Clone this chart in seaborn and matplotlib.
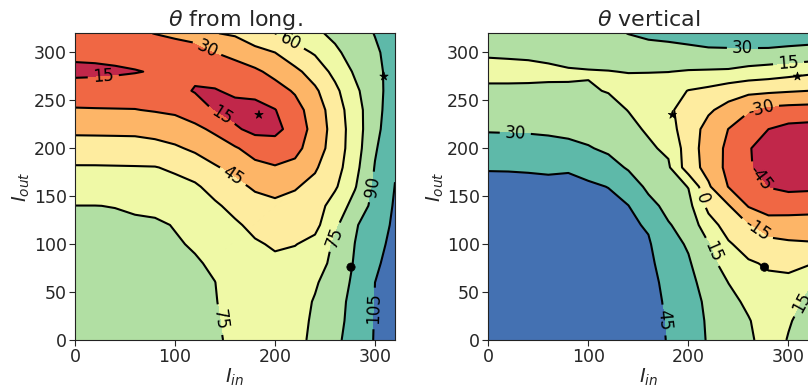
import numpy as np
import pandas as pd
import matplotlib
matplotlib.use("Agg")
import matplotlib.pyplot as plt
import seaborn as sns

sns.set_style("ticks")
plt.rcParams["font.family"] = ["DejaVu Sans"]
plt.rcParams["contour.negative_linestyle"] = "solid"

# grid coordinates (same for both panels)
I_in = [0, 20, 40, 60, 80, 100, 120, 140, 160, 180, 200, 220, 240, 260, 280, 300, 320]
I_out = [0, 20, 40, 60, 80, 100, 120, 140, 160, 180, 200, 220, 240, 260, 280, 300, 320]

# theta from long. : one list per I_in column, values along I_out (0 -> 320)
theta_long_cols = [
    [84, 83.5, 82.5, 81.3, 80, 78.5, 77, 75.1, 68.2, 61.1, 51.8, 41.8, 31.1, 22.3, 11.5, 18.5, 24],
    [84, 83.5, 82.5, 81.3, 80, 78.5, 77, 75.1, 68.3, 61.1, 51.6, 41.7, 30.8, 22.5, 12, 18.8, 24.5],
    [83.5, 83, 82, 81, 79.5, 78, 76.5, 74.8, 67.8, 60.9, 51.5, 41.5, 30.6, 22.6, 13, 19.5, 26],
    [83, 82.5, 81.5, 80.5, 79, 77.8, 76.5, 73.7, 66.8, 60.7, 51.3, 41.3, 30.4, 22.8, 14.3, 20.5, 28],
    [81, 80.5, 80, 79, 78, 77, 76.5, 72.5, 66.5, 60.5, 50, 39.5, 29, 21.5, 16, 22.5, 30.3],
    [79.5, 79, 78.5, 78, 77, 76, 74.5, 69, 64, 58, 47, 37, 27.5, 19.5, 17, 25, 32],
    [78, 77.8, 77.5, 77, 76, 74, 70.5, 66.5, 62, 53, 42.5, 33, 23, 14, 18, 26, 34],
    [76, 75.7, 75.4, 75.1, 73.5, 70.5, 66.5, 62, 55, 46.5, 36.5, 27.5, 14, 14, 22, 30, 44.5],
    [73.5, 73, 72, 70.5, 68.5, 65.5, 62, 56, 49, 40.5, 31.5, 17, 9.5, 18, 24, 34, 47],
    [70, 69.5, 68.5, 67, 65, 61.5, 56.5, 50.5, 43, 34, 24, 11, 9, 20, 27.5, 40, 55],
    [68, 67.5, 66.5, 65, 62.5, 58.5, 53.5, 48, 40.5, 31, 22, 11, 14.5, 24.5, 34, 45, 60],
    [71, 70.5, 69.5, 68, 65, 59.5, 54, 49, 44, 34, 25.5, 21, 24.5, 31.5, 41.5, 54.5, 66],
    [78, 77, 76, 73.5, 69.5, 64, 56, 53, 48.5, 43.5, 38, 35.5, 37, 42.5, 51.5, 61.5, 72.5],
    [87.5, 85.5, 84.5, 82, 78.5, 77.5, 72, 66.5, 58, 53.5, 51.5, 51, 52.5, 56.5, 64, 72.5, 78],
    [95, 95, 94.5, 93, 91.5, 90.2, 88.5, 80, 74, 70.5, 68, 67.5, 68.5, 72, 77, 80.5, 84],
    [106, 105.7, 105.3, 105, 103, 100.5, 98, 95, 92.5, 90.8, 88.5, 86, 85, 85, 86, 88, 90.5],
    [113, 112.5, 112, 111, 110, 109, 107.5, 106.5, 105.3, 104, 102, 100, 98.5, 97, 96, 95.5, 95],
]

# theta vertical : one list per I_in column, values along I_out (0 -> 320)
theta_vert_cols = [
    [58, 57.8, 57.5, 57, 56, 55, 53.5, 51, 48, 44.3, 36, 28.8, 23, 17.5, 11, 16.5, 22],
    [58, 57.8, 57.5, 57, 56, 55, 53.5, 51, 48, 44.2, 35.7, 28.6, 23, 17.5, 11, 17, 22.5],
    [57.5, 57.3, 57, 56.5, 55.5, 54.5, 53, 50.5, 47.6, 44, 35.5, 28.3, 22.8, 17.5, 11.3, 17.5, 23],
    [57, 56.8, 56.5, 56, 55, 54, 52.5, 50, 47.3, 43.6, 35, 27.5, 22.5, 17.5, 12, 19, 24],
    [56, 55.8, 55.5, 55, 54, 53, 51.5, 49, 47, 44.2, 33.5, 26.5, 21.5, 16.3, 13.5, 21, 25.5],
    [55, 54.8, 54.5, 54, 53, 52, 50.5, 48.5, 46.3, 42, 31, 25, 20.5, 16, 14.2, 21.5, 26.5],
    [54, 53.8, 53.5, 53, 52, 51, 49.5, 47.5, 44.8, 35.5, 27.5, 22.5, 18.5, 14.5, 14.6, 22, 27],
    [53, 52.8, 52.5, 52, 51, 49.5, 47.5, 45.2, 38, 28.5, 22, 18, 14.7, 9, 15.5, 23.5, 30.3],
    [51.5, 51, 50.5, 49.5, 48, 46.5, 43.5, 34.5, 27, 21, 17, 13.5, 6, 7, 15.5, 24, 33],
    [44, 43.5, 42.5, 41, 38.5, 35, 31, 26, 21.5, 17, 12.5, 5.5, 2, 6, 15.2, 25, 34],
    [36, 35.8, 35, 33.5, 31.5, 28.5, 24.5, 19.5, 14.5, -8, -7.5, -7.5, -5, -0.5, 14, 26.5, 35],
    [29, 28.5, 27.5, 25, 20.5, 15.8, 6, -4, -13, -20, -22, -20, -13, -3.5, 13.5, 27.5, 37],
    [23, 22, 19.5, 14.8, 8, 1.5, -6, -14, -30.5, -34, -33, -30.2, -20, -8.5, 13, 27.5, 38],
    [17.5, 16, 12, 6.5, 1.5, -5.5, -14.5, -31, -39, -43.5, -44, -40, -28.5, -11.5, 10, 27.5, 38.5],
    [9, 7.5, 5, 2.5, -1.5, -10, -24, -36, -45.5, -51, -51, -45, -34, -12.5, 8, 27.2, 39],
    [15.7, 14, 7.6, 3, -3.1, -12.7, -23.8, -36, -48.5, -54, -55, -49, -35.4, -13.8, 5.5, 26.6, 37],
    [22, 19.5, 18.5, 12.5, -1.5, -13.5, -24, -35, -48, -55, -56, -50, -36, -15, 3, 26, 36],
]

levels_long = [0, 15, 30, 45, 60, 75, 90, 105, 120]
levels_vert = [-60, -45, -30, -15, 0, 15, 30, 45, 60]

# marked points
pt_in = [184, 309, 276]
pt_out = [235, 275, 76]
pt_kind = ["star", "star", "dot"]

titles = [r"$\theta$ from long.", r"$\theta$ vertical"]
x_ticks = [0, 100, 200, 300]
y_ticks = [0, 50, 100, 150, 200, 250, 300]

# label positions for contour labels (styling)
lab_long = [(28, 279), (150, 240), (132, 304), (215, 311), (158, 171),
            (258, 108), (150, 22), (295, 160), (297, 33)]
lab_vert = [(254, 304), (300, 290), (27, 216), (272, 243), (268, 167),
            (214, 148), (267, 113), (224, 92), (177, 21), (311, 40)]

cmap = sns.color_palette("Spectral", as_cmap=True)

fig = plt.figure(figsize=(8.08, 3.9), dpi=100)
ax1 = fig.add_axes([75 / 808, 50 / 390, 320 / 808, 306.7 / 390])
ax2 = fig.add_axes([488.3 / 808, 50 / 390, 320.2 / 808, 306.7 / 390])

X, Y = np.meshgrid(np.array(I_in, float), np.array(I_out, float))
pts = pd.DataFrame({"I_in": pt_in, "I_out": pt_out, "kind": pt_kind})

for ax, cols, lev, labs, title in [
    (ax1, theta_long_cols, levels_long, lab_long, titles[0]),
    (ax2, theta_vert_cols, levels_vert, lab_vert, titles[1]),
]:
    Z = np.array(cols, float).T
    ax.contourf(X, Y, Z, levels=lev, cmap=cmap)
    cl = ax.contour(X, Y, Z, levels=lev[1:-1], colors="k", linewidths=1.5,
                    linestyles="solid")
    ax.clabel(cl, fmt="%d", fontsize=12, manual=labs, inline=True)
    sns.scatterplot(data=pts, x="I_in", y="I_out", style="kind", size="kind",
                    sizes={"star": 40, "dot": 36},
                    markers={"star": "*", "dot": "o"}, color="k",
                    edgecolor="k", legend=False, ax=ax, zorder=5)
    ax.set_xlim(0, 320)
    ax.set_ylim(0, 320)
    ax.set_xticks(x_ticks)
    ax.set_yticks(y_ticks)
    ax.tick_params(labelsize=12.5, length=4, pad=2)
    ax.set_xlabel(r"$I_{in}$", fontsize=14, labelpad=0)
    ax.set_ylabel(r"$I_{out}$", fontsize=14, labelpad=1)
    ax.set_title(title, fontsize=16, pad=5)
    for sp in ax.spines.values():
        sp.set_visible(True)
        sp.set_color("#222222")

fig.savefig("out.png", dpi=100)
